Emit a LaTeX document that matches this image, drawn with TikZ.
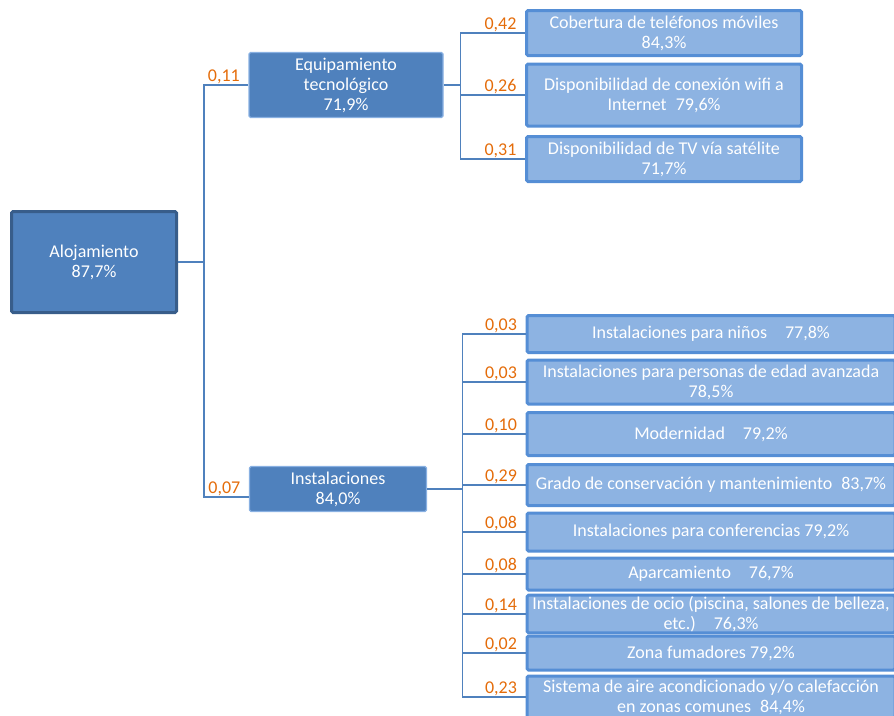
\documentclass[tikz,border=0pt]{standalone}
\usepackage{fontspec}
\setmainfont{Carlito}
\usetikzlibrary{positioning}
\definecolor{boxblue}{HTML}{4F81BD}
\definecolor{leafblue}{HTML}{8DB3E2}
\definecolor{edgeblue}{HTML}{558ED5}
\definecolor{rootedge}{HTML}{385D8A}
\definecolor{wtorange}{HTML}{E46C0A}

\tikzset{
  box/.style={draw, rounded corners=1.5pt, text=white, align=center,
    inner sep=1pt, font=\fontsize{18}{20}\selectfont},
  % Styles for the three levels of the tree
  root/.style={box, fill=boxblue, draw=rootedge, line width=3pt},
  midbox/.style={box, fill=boxblue, draw=edgeblue!70, line width=1.2pt},
  leaf/.style={box, fill=leafblue, draw=edgeblue, line width=3pt},
  wt/.style={text=wtorange, anchor=south east, xshift=-7pt, inner sep=1pt,
    font=\fontsize{18}{20}\selectfont},
  link/.style={draw=boxblue, line width=1.2pt}
}

\begin{document}
\begin{tikzpicture}[x=1pt,y=-1pt]
\useasboundingbox (0,0) rectangle (894,715);

% Root and second level
\node[root, minimum width=165, minimum height=101] (alo) at (94,262) {Alojamiento\\87,7\%};
\node[midbox, minimum width=194, minimum height=65] (equip) at (346,85) {Equipamiento\\tecnológico\\71,9\%};
\node[midbox, minimum width=177, minimum height=45] (inst) at (338,489) {Instalaciones\\84,0\%};

% Leaves of Equipamiento tecnológico
\node[leaf, minimum width=275, minimum height=45] (cob) at (664,33) {Cobertura de teléfonos móviles\\84,3\%};
\node[leaf, minimum width=275, minimum height=62] (wifi) at (664,95) {Disponibilidad de conexión wifi a\\Internet\enspace 79,6\%};
\node[leaf, minimum width=275, minimum height=45] (tv) at (664,159) {Disponibilidad de TV vía satélite\\71,7\%};

% Leaves of Instalaciones
\node[leaf, minimum width=368, minimum height=37] (ninos) at (711,334) {Instalaciones para niños\quad 77,8\%};
\node[leaf, minimum width=368, minimum height=44] (mayores) at (711,382) {Instalaciones para personas de edad avanzada\\78,5\%};
\node[leaf, minimum width=368, minimum height=43] (modern) at (711,434) {Modernidad\quad 79,2\%};
\node[leaf, minimum width=368, minimum height=41] (conserv) at (711,485) {Grado de conservación y mantenimiento\enspace 83,7\%};
\node[leaf, minimum width=368, minimum height=38] (confer) at (711,532) {Instalaciones para conferencias 79,2\%};
\node[leaf, minimum width=368, minimum height=32] (aparc) at (711,574) {Aparcamiento\quad 76,7\%};
\node[leaf, minimum width=368, minimum height=32] (ocio) at (711,614) {Instalaciones de ocio (piscina, salones de belleza,\\etc.)\quad 76,3\%};
\node[leaf, minimum width=368, minimum height=34] (fumad) at (711,653) {Zona fumadores 79,2\%};
\node[leaf, minimum width=368, minimum height=42] (clima) at (711,697) {Sistema de aire acondicionado y/o calefacción\\en zonas comunes\enspace 84,4\%};

% Connectors with weights
\draw[link] (alo.east) -- ++(26,0) coordinate (jalo);
\draw[link] (jalo) |- (equip.west) node[wt] {0,11};
\draw[link] (jalo) |- ([yshift=-8pt]inst.west) node[wt] {0,07};

\draw[link] (equip.east) -- ++(17,0) coordinate (jequip);
\foreach \n/\w in {cob/{0,42}, wifi/{0,26}, tv/{0,31}}
  \draw[link] (jequip) |- (\n.west) node[wt] {\w};

\draw[link] (inst.east) -- ++(35,0) coordinate (jinst);
\foreach \n/\w in {ninos/{0,03}, mayores/{0,03}, modern/{0,10}, conserv/{0,29},
    confer/{0,08}, aparc/{0,08}, ocio/{0,14}, fumad/{0,02}, clima/{0,23}}
  \draw[link] (jinst) |- (\n.west) node[wt] {\w};
\end{tikzpicture}
\end{document}
